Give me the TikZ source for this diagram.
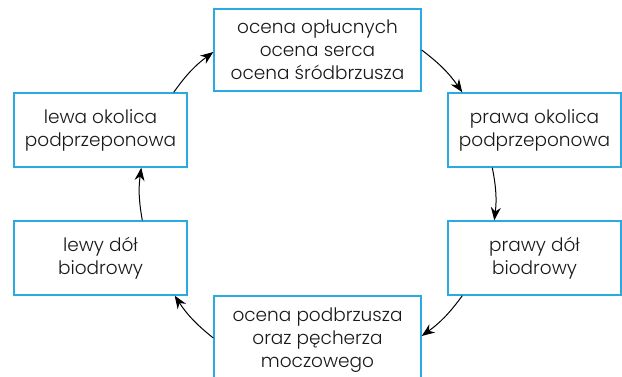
\documentclass[tikz,border=0pt]{standalone}
\usepackage{fontspec}
\setmainfont{Poppins}[UprightFont={* Light}]
\usetikzlibrary{arrows.meta}
\definecolor{boxblue}{HTML}{29ABE2}
\tikzset{
  stepbox/.style={draw=boxblue, line width=1.4pt, fill=white, align=center,
    inner sep=0pt, font=\fontsize{18.5}{23}\selectfont, text=black!90},
  conn/.style={-{Stealth[length=13pt,width=10pt]}, line width=1pt, black, bend left=9}
}
\begin{document}
\begin{tikzpicture}[x=1pt,y=1pt]
\useasboundingbox (0,0) rectangle (622,376);
\clip (0,0) rectangle (622,376);
\node[stepbox, minimum width=207pt, minimum height=82pt] (top) at (317.5,326) {ocena opłucnych\\ocena serca\\ocena śródbrzusza};
\node[stepbox, minimum width=173pt, minimum height=74pt] (lu) at (100.5,246) {lewa okolica\\podprzeponowa};
\node[stepbox, minimum width=173pt, minimum height=74pt] (ru) at (534.5,246) {prawa okolica\\podprzeponowa};
\node[stepbox, minimum width=173pt, minimum height=74pt] (ll) at (100.5,118) {lewy dół\\biodrowy};
\node[stepbox, minimum width=173pt, minimum height=74pt] (rl) at (534.5,118) {prawy dół\\biodrowy};
\node[stepbox, minimum width=207pt, minimum height=88pt] (bot) at (317.5,36) {ocena podbrzusza\\oraz pęcherza\\moczowego};
\draw[conn] ([xshift=-14pt]lu.north east) to ([yshift=-2pt]top.west);
\draw[conn] (top.east) to ([xshift=15pt]ru.north west);
\draw[conn] ([xshift=45pt]ru.south west) to ([xshift=47pt]rl.north west);
\draw[conn] ([xshift=15pt]rl.south west) to ([yshift=4pt]bot.east);
\draw[conn] ([yshift=2pt]bot.west) to ([xshift=-13pt]ll.south east);
\draw[conn] ([xshift=129pt]ll.north west) to ([xshift=128pt]lu.south west);
\end{tikzpicture}
\end{document}
